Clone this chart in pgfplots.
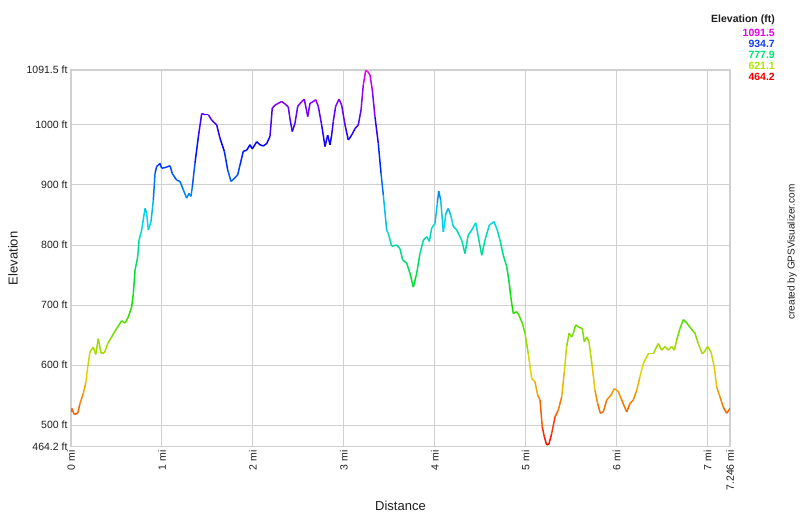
\documentclass[border=0pt]{standalone}
\usepackage{pgfplots}
\pgfplotsset{compat=1.18}
\usepackage{fontspec}
\setmainfont{Liberation Sans}

\definecolor{gridgray}{RGB}{208,208,208}
\definecolor{txt}{RGB}{30,30,30}

\pgfplotsset{colormap={hue}{rgb255=(255,0,0) rgb255=(235,215,0) rgb255=(0,225,0)
  rgb255=(0,215,235) rgb255=(0,0,255) rgb255=(235,0,235)}}

\begin{document}
\begin{tikzpicture}
\path[use as bounding box] (0,0) rectangle (800pt,517pt);

\begin{axis}[
	at={(71pt,70.3pt)}, anchor=south west,
	scale only axis,
	width=659pt, height=376.7pt,
	xmin=0, xmax=7.246,
	ymin=464.2, ymax=1091.5,
	xtick={0,1,2,3,4,5,6,7,7.246},
	xticklabels={0 mi,1 mi,2 mi,3 mi,4 mi,5 mi,6 mi,7 mi,7.246 mi},
	ytick={464.2,500,600,700,800,900,1000,1091.5},
	yticklabels={464.2 ft,500 ft,600 ft,700 ft,800 ft,900 ft,1000 ft,1091.5 ft},
	major tick length=0pt,
	grid=major,
	grid style={gridgray, line width=1pt},
	axis line style={gridgray, line width=1.5pt},
	ticklabel style={font=\fontsize{10.5}{12}\selectfont, text=txt},
	xticklabel style={rotate=90, anchor=east},
	xlabel={Distance}, ylabel={Elevation},
	label style={font=\fontsize{13}{15}\selectfont, text=txt},
	xlabel style={at={(axis description cs:0.5,-0.1574)}, anchor=center},
	ylabel style={at={(axis description cs:-0.088,0.5)}, anchor=center},
	colormap name=hue,
	point meta min=464.2, point meta max=1091.5,
]
\addplot[mesh, point meta=y, line width=1.5pt] coordinates {
(0.000,522) (0.008,528) (0.036,518) (0.074,520) (0.099,536) (0.135,553)
(0.162,570) (0.184,597) (0.209,622) (0.245,630) (0.272,618) (0.300,644)
(0.330,620) (0.366,620) (0.404,636) (0.447,647) (0.502,661) (0.557,674)
(0.594,670) (0.630,680) (0.667,697) (0.685,719) (0.704,758) (0.733,780)
(0.748,808) (0.777,825) (0.814,861) (0.832,853) (0.850,825) (0.880,839)
(0.905,875) (0.924,919) (0.942,931) (0.960,933) (0.979,936) (0.997,928)
(1.034,929) (1.089,932) (1.114,919) (1.162,908) (1.198,906) (1.235,892)
(1.272,878) (1.297,886) (1.319,881) (1.334,897) (1.363,936) (1.400,980)
(1.437,1019) (1.473,1017) (1.510,1017) (1.547,1008) (1.602,1000) (1.638,978)
(1.686,956) (1.723,925) (1.759,906) (1.796,911) (1.833,917) (1.858,933)
(1.894,956) (1.932,958) (1.968,967) (1.993,960) (2.042,972) (2.078,967)
(2.114,965) (2.152,969) (2.188,981) (2.213,1028) (2.243,1033) (2.279,1036)
(2.317,1039) (2.353,1035) (2.389,1030) (2.408,1010) (2.433,989) (2.463,1003)
(2.493,1031) (2.537,1039) (2.565,1043) (2.603,1014) (2.628,1036) (2.664,1039)
(2.690,1042) (2.719,1031) (2.756,1000) (2.793,964) (2.822,983) (2.848,967)
(2.866,983) (2.884,1006) (2.910,1031) (2.947,1043) (2.976,1033) (3.013,1000)
(3.049,975) (3.086,983) (3.123,994) (3.159,1000) (3.189,1025) (3.214,1067)
(3.240,1090.5) (3.262,1089) (3.288,1083) (3.313,1058) (3.342,1014) (3.379,969)
(3.409,919) (3.434,883) (3.471,825) (3.489,819) (3.526,798) (3.581,800)
(3.617,794) (3.647,775) (3.691,770) (3.727,753) (3.764,730) (3.801,753)
(3.837,786) (3.874,808) (3.911,814) (3.940,806) (3.966,828) (4.002,836)
(4.027,869) (4.043,890) (4.065,875) (4.094,822) (4.123,853) (4.148,861)
(4.175,850) (4.203,831) (4.241,825) (4.296,808) (4.332,786) (4.368,817)
(4.406,825) (4.450,837) (4.478,814) (4.516,783) (4.552,808) (4.599,833)
(4.651,839) (4.687,825) (4.717,808) (4.753,783) (4.791,764) (4.819,736)
(4.835,714) (4.863,686) (4.901,689) (4.926,683) (4.962,670) (4.992,653)
(5.028,619) (5.065,578) (5.102,572) (5.131,550) (5.157,542) (5.182,497)
(5.204,481) (5.230,467) (5.256,469) (5.285,486) (5.322,514) (5.358,525)
(5.395,547) (5.424,589) (5.450,631) (5.476,653) (5.505,647) (5.523,653)
(5.549,667) (5.586,663) (5.622,661) (5.644,639) (5.671,647) (5.695,639)
(5.732,597) (5.761,558) (5.791,536) (5.820,520) (5.853,522) (5.890,542)
(5.937,550) (5.974,561) (6.018,556) (6.055,542) (6.110,522) (6.146,536)
(6.183,542) (6.220,558) (6.256,581) (6.293,603) (6.348,619) (6.402,619)
(6.457,636) (6.495,625) (6.531,631) (6.567,625) (6.605,631) (6.634,625)
(6.660,642) (6.696,661) (6.733,676) (6.771,670) (6.817,661) (6.861,653)
(6.897,636) (6.941,619) (6.963,622) (7.000,631) (7.037,622) (7.073,597)
(7.099,564) (7.136,547) (7.172,530) (7.210,520) (7.246,528)
};
\end{axis}

% colour key, top right
\begin{scope}[every node/.style={anchor=east, inner sep=0pt,
	font=\bfseries\fontsize{10.5}{12}\selectfont}]
\node[text=txt] at (775pt,497pt) {Elevation (ft)};
\node[text={rgb,255:red,230;green,0;blue,230}] at (775pt,484pt) {1091.5};
\node[text={rgb,255:red,20;green,60;blue,240}] at (775pt,473pt) {934.7};
\node[text={rgb,255:red,0;green,225;blue,115}] at (775pt,462pt) {777.9};
\node[text={rgb,255:red,175;green,230;blue,0}] at (775pt,451pt) {621.1};
\node[text={rgb,255:red,245;green,0;blue,0}] at (775pt,440pt) {464.2};
\end{scope}

\node[rotate=90, text=txt, font=\fontsize{10}{12}\selectfont]
	at (792pt,265pt) {created by GPSVisualizer.com};
\end{tikzpicture}
\end{document}
